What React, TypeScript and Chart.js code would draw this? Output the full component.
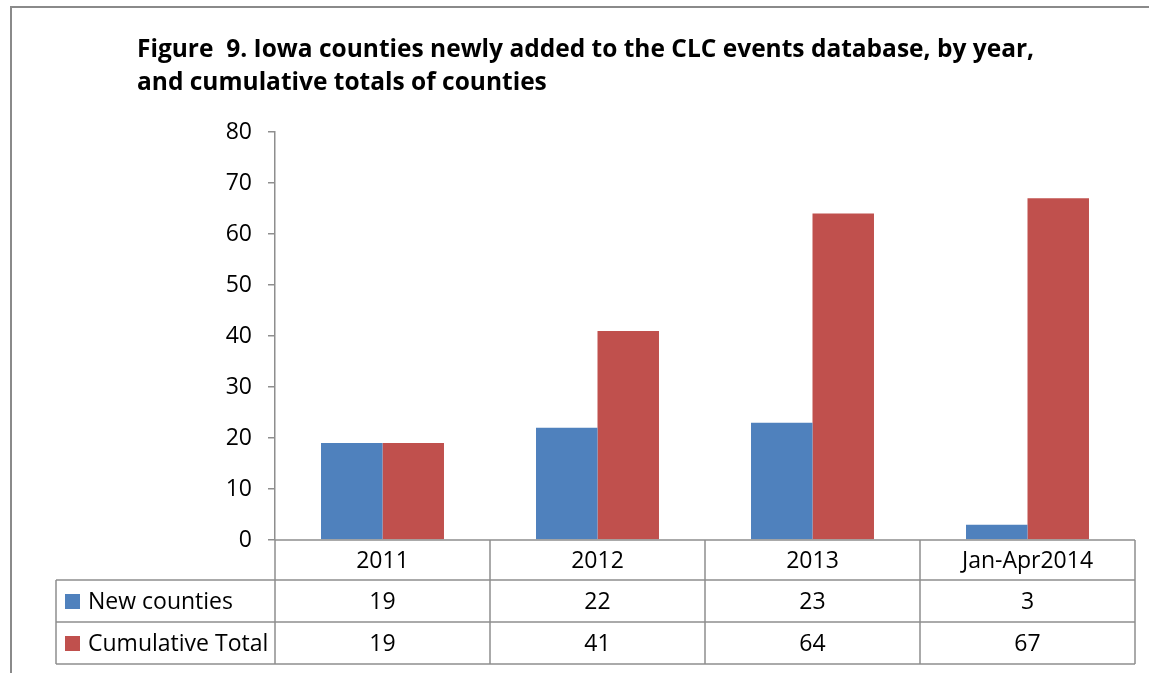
import React, { useEffect, useRef } from "react";
import { Chart, registerables } from "chart.js";

Chart.register(...registerables);

const categories = ["2011", "2012", "2013", "Jan-Apr2014"];
const newCounties = [19, 22, 23, 3];
const cumulativeTotal = [19, 41, 64, 67];
const seriesNames = ["New counties", "Cumulative Total"];
const titleLines = [
  "Figure  9. Iowa counties newly added to the CLC events database, by year,",
  "and cumulative totals of counties",
];

const FONT = "'Open Sans', 'DejaVu Sans', sans-serif";
const BLUE = "#4F81BD";
const RED = "#C0504D";
const LINE = "#8e8e8e";

const tablePlugin = {
  id: "tablePlugin",
  afterDraw(chart: any) {
    const ctx = chart.ctx;
    const area = chart.chartArea;
    const x = chart.scales.x;
    const n = categories.length;
    const colW = (area.right - area.left) / n;
    const top = area.bottom;
    const rowH = [40, 42, 42];
    const y1 = top + rowH[0];
    const y2 = y1 + rowH[1];
    const y3 = y2 + rowH[2];
    const legendLeft = 56;

    ctx.save();
    // frame
    ctx.strokeStyle = "#8a8a8a";
    ctx.lineWidth = 2;
    ctx.beginPath();
    ctx.moveTo(11, 673);
    ctx.lineTo(11, 7);
    ctx.lineTo(1149, 7);
    ctx.stroke();

    // title
    ctx.fillStyle = "#000";
    ctx.font = `bold 24.5px ${FONT}`;
    ctx.textAlign = "left";
    ctx.textBaseline = "middle";
    ctx.fillText(titleLines[0], 137, 50);
    ctx.fillText(titleLines[1], 137, 83);

    // table lines
    ctx.strokeStyle = LINE;
    ctx.lineWidth = 1.5;
    ctx.beginPath();
    ctx.moveTo(area.left, top);
    ctx.lineTo(area.right, top);
    for (const yy of [y1, y2, y3]) {
      ctx.moveTo(legendLeft, yy);
      ctx.lineTo(area.right, yy);
    }
    for (let i = 0; i <= n; i++) {
      const xx = area.left + i * colW;
      ctx.moveTo(xx, top);
      ctx.lineTo(xx, y3);
    }
    ctx.moveTo(legendLeft, y1);
    ctx.lineTo(legendLeft, y3);
    ctx.stroke();

    // text
    ctx.fillStyle = "#000";
    ctx.font = `23px ${FONT}`;
    ctx.textAlign = "center";
    ctx.textBaseline = "middle";
    const rows = [newCounties, cumulativeTotal];
    for (let i = 0; i < n; i++) {
      const cx = x.getPixelForValue(i);
      ctx.fillText(categories[i], cx, (top + y1) / 2 + 1);
      ctx.fillText(String(rows[0][i]), cx, (y1 + y2) / 2 + 1);
      ctx.fillText(String(rows[1][i]), cx, (y2 + y3) / 2 + 1);
    }
    // legend keys
    const keyColors = [BLUE, RED];
    const rowYs = [(y1 + y2) / 2, (y2 + y3) / 2];
    ctx.textAlign = "left";
    for (let r = 0; r < 2; r++) {
      ctx.fillStyle = keyColors[r];
      ctx.fillRect(65, rowYs[r] - 7, 15, 15);
      ctx.fillStyle = "#000";
      ctx.fillText(seriesNames[r], 88, rowYs[r] + 1);
    }
    ctx.restore();
  },
};

export default function App() {
  const ref = useRef<HTMLCanvasElement>(null);
  useEffect(() => {
    if (!ref.current) return;
    const chart = new Chart(ref.current, {
      type: "bar",
      data: {
        labels: categories,
        datasets: [
          { label: seriesNames[0], data: newCounties, backgroundColor: BLUE },
          { label: seriesNames[1], data: cumulativeTotal, backgroundColor: RED },
        ],
      },
      options: {
        responsive: false,
        animation: false,
        layout: { padding: { left: 0, right: 14, top: 132, bottom: 133 } },
        datasets: { bar: { categoryPercentage: 0.572, barPercentage: 1 } },
        plugins: { legend: { display: false }, title: { display: false }, tooltip: { enabled: false } },
        scales: {
          x: { display: false },
          y: {
            min: 0,
            max: 80,
            ticks: { stepSize: 10, color: "#000", font: { family: FONT, size: 23 }, padding: 16 },
            grid: { drawOnChartArea: false, drawTicks: true, tickLength: 7, color: LINE, lineWidth: 1.5 },
            border: { display: true, color: LINE, width: 1.5 },
            afterFit(scale: any) {
              scale.width = 275;
            },
          },
        },
      },
      plugins: [tablePlugin],
    });
    return () => chart.destroy();
  }, []);
  return (
    <div style={{ position: "absolute", left: 0, top: 0, width: 1149, height: 673, background: "#fff" }}>
      <canvas ref={ref} width={1149} height={673} style={{ display: "block" }} />
    </div>
  );
}
